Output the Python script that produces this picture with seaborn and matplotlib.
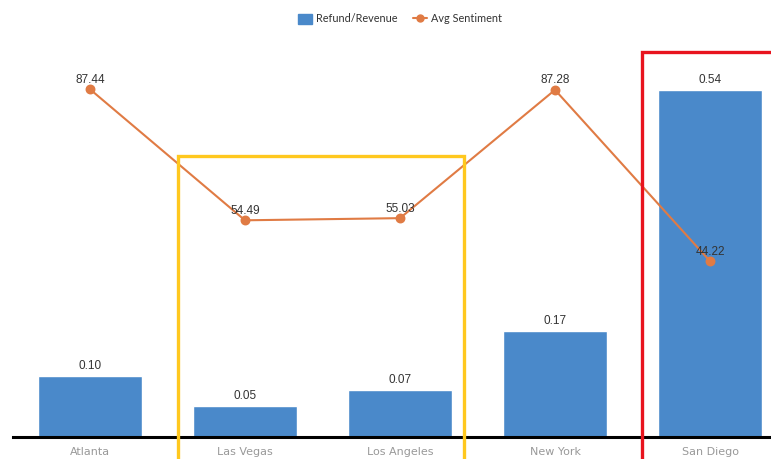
import matplotlib
matplotlib.use("Agg")
import matplotlib.pyplot as plt
import seaborn as sns
from matplotlib.patches import Rectangle
from matplotlib.lines import Line2D
from matplotlib.patches import Patch

cities = ["Atlanta", "Las Vegas", "Los Angeles", "New York", "San Diego"]
refund_ratio = [0.096, 0.048, 0.073, 0.166, 0.544]
sentiment = [87.44, 54.49, 55.03, 87.28, 44.22]
ratio_labels = ["0.10", "0.05", "0.07", "0.17", "0.54"]
sent_labels = ["87.44", "54.49", "55.03", "87.28", "44.22"]

BAR = "#4a89ca"
LINE = "#e07b44"

sns.set_theme(style="white")
plt.rcParams["font.family"] = ["Liberation Sans", "DejaVu Sans"]

W, H = 771, 459
fig = plt.figure(figsize=(W / 100, H / 100), dpi=100)
left_px, right_px = 12.5, 787.5
bottom_px, top_px = 437, 41.3
ax = fig.add_axes([left_px / W, (H - bottom_px) / H, (right_px - left_px) / W, (bottom_px - top_px) / H])

sns.barplot(x=cities, y=refund_ratio, color=BAR, width=0.67, saturation=1, ax=ax)
ax.set_ylim(0, 0.6212)
ax.set_xlim(-0.5, 4.5)

ax2 = ax.twinx()
sns.pointplot(x=cities, y=sentiment, color=LINE, ax=ax2, markers="o",
              markersize=6, linewidth=1.5)
ax2.set_ylim(0, 99.5)
ax2.set_xlim(-0.5, 4.5)

for i, (v, t) in enumerate(zip(refund_ratio, ratio_labels)):
    ax.annotate(t, (i, v), xytext=(0, 3), textcoords="offset points",
                ha="center", va="bottom", fontsize=8.5, color="#333333")
for i, (v, t) in enumerate(zip(sentiment, sent_labels)):
    ax2.annotate(t, (i, v), xytext=(0, 2.5), textcoords="offset points",
                 ha="center", va="bottom", fontsize=8.5, color="#333333")

for a in (ax, ax2):
    a.set_xlabel("")
    a.set_ylabel("")
    a.set_yticks([])
    for s in ("left", "right", "top"):
        a.spines[s].set_visible(False)
ax2.spines["bottom"].set_visible(False)
ax.spines["bottom"].set_color("black")
ax.spines["bottom"].set_linewidth(2.2)
ax.tick_params(axis="x", length=0, pad=7, labelsize=8, labelcolor="#999999")
ax2.tick_params(axis="x", length=0, labelbottom=False)
for lbl in ax.get_xticklabels():
    lbl.set_family(["Liberation Sans Narrow", "DejaVu Sans"])

# highlight boxes
def px_rect(x0, y0, x1, y1, color):
    r = Rectangle((x0 / W, (H - y1) / H), (x1 - x0) / W, (y1 - y0) / H,
                  transform=fig.transFigure, fill=False, edgecolor=color,
                  linewidth=2.4, zorder=10, clip_on=False)
    fig.patches.append(r)

px_rect(178, 156, 464, 470, "#ffc81e")
px_rect(642, 52, 790, 470, "#e8141e")

handles = [Patch(facecolor=BAR, edgecolor=BAR),
           Line2D([0], [0], color=LINE, marker="o", markersize=5, linewidth=1.5)]
leg = fig.legend(handles, ["Refund/Revenue", "Avg Sentiment"], loc="center",
                 bbox_to_anchor=(400 / W, 1 - 19 / H), ncol=2, frameon=False,
                 handlelength=1.3, handleheight=1.0, columnspacing=1.4,
                 handletextpad=0.4, prop={"family": ["Lato", "DejaVu Sans"], "size": 7.8})
for t in leg.get_texts():
    t.set_color("#333333")

fig.savefig("out.png", dpi=100)
